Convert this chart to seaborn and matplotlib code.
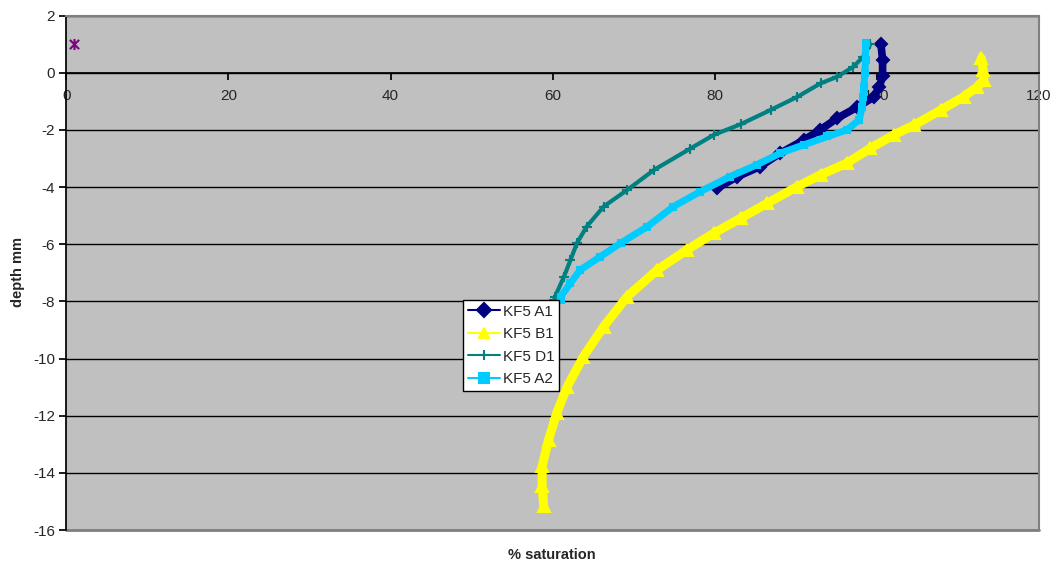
import matplotlib
matplotlib.use("Agg")
import matplotlib.pyplot as plt
from matplotlib.lines import Line2D
from matplotlib.path import Path
import seaborn as sns

# KF5 saturation profiles
a1_sat = [100.5, 100.7, 100.7, 100.3, 99.6, 97.6, 95.1, 93.0, 91.0, 88.1, 85.6, 82.8, 80.3]
a1_depth = [1.0, 0.45, -0.1, -0.5, -0.85, -1.2, -1.59, -2.0, -2.35, -2.81, -3.28, -3.63, -4.04]

b1_sat = [112.9, 113.1, 113.2, 112.4, 110.7, 107.9, 104.6, 102.1, 99.2, 96.3, 93.05, 90.2, 86.5,
          83.2, 79.9, 76.6, 72.9, 69.2, 66.3, 63.8, 61.8, 60.5, 59.5, 58.7, 58.7, 58.9]
b1_depth = [0.5, 0.1, -0.25, -0.49, -0.84, -1.30, -1.83, -2.17, -2.64, -3.16, -3.57, -3.98, -4.56,
            -5.09, -5.61, -6.19, -6.90, -7.83, -8.88, -9.93, -10.98, -11.91, -12.84, -13.77, -14.47, -15.17]

d1_sat = [99.2, 98.3, 97.1, 95.1, 93.05, 90.2, 86.9, 83.2, 79.9, 77.0, 72.5, 69.2, 66.3, 64.2,
          63.0, 62.2, 61.4, 60.3, 60.2]
d1_depth = [1.0, 0.56, 0.21, -0.14, -0.37, -0.84, -1.30, -1.80, -2.17, -2.65, -3.40, -4.10, -4.68,
            -5.38, -5.96, -6.55, -7.13, -7.83, -7.95]

a2_sat = [98.6, 98.6, 98.5, 98.4, 98.3, 98.2, 97.8, 96.3, 93.9, 91.0, 88.1, 85.2, 81.9, 78.2,
          74.9, 71.7, 68.4, 65.9, 63.4, 62.2, 61.0, 61.0]
a2_depth = [1.03, 0.45, -0.02, -0.49, -0.84, -1.19, -1.65, -2.0, -2.23, -2.52, -2.81, -3.22, -3.63,
            -4.16, -4.68, -5.38, -5.96, -6.43, -6.9, -7.36, -7.83, -7.95]

extra_sat = [1.0]
extra_depth = [1.0]

labels = ["KF5 A1", "KF5 B1", "KF5 D1", "KF5 A2"]
colors = ["#000080", "#FFFF00", "#008080", "#00CCFF"]
markers = ["D", "^", "+", "s"]

sns.set_theme(style="white")
plt.rcParams["font.family"] = ["Liberation Sans", "DejaVu Sans"]
plt.rcParams["axes.unicode_minus"] = False

fig = plt.figure(figsize=(10.57, 5.68), dpi=100)
ax = fig.add_axes([0.0627, 0.0669, 0.9203, 0.9056])
ax.set_facecolor("#C0C0C0")

series = [(a1_sat, a1_depth), (b1_sat, b1_depth), (d1_sat, d1_depth), (a2_sat, a2_depth)]
widths = [5.5, 6.5, 3, 5]
msizes = [6, 8, 7, 5]
for (xs, ys), c, m, lw, ms in zip(series, colors, markers, widths, msizes):
    sns.lineplot(x=xs, y=ys, sort=False, estimator=None, color=c, lw=lw, marker=m,
                 markersize=ms, markeredgecolor=c, markeredgewidth=1.5, ax=ax, zorder=3)

# star marker: X with a vertical bar
star = Path([(-1, -1), (1, 1), (-1, 1), (1, -1), (0, -1.2), (0, 1.2)],
            [Path.MOVETO, Path.LINETO, Path.MOVETO, Path.LINETO, Path.MOVETO, Path.LINETO])
sns.lineplot(x=extra_sat, y=extra_depth, color="#800080", marker=star, markersize=8,
             markeredgewidth=1.5, markeredgecolor="#800080", lw=0, ax=ax, zorder=3)

ax.set_xlim(0, 120)
ax.set_ylim(-16, 2)
ax.set_xticks(range(0, 121, 20))
ax.set_yticks(range(-16, 3, 2))
ax.yaxis.grid(True, color="black", lw=1)
ax.xaxis.grid(False)

ax.spines["bottom"].set_position(("data", 0))
ax.spines["bottom"].set_color("black")
ax.spines["left"].set_color("black")
for s in ["top", "right"]:
    ax.spines[s].set_color("#808080")
    ax.spines[s].set_linewidth(1.5)
ax.axhline(-16, color="#808080", lw=2, zorder=2.5, clip_on=False)

ax.tick_params(axis="x", direction="out", length=5, pad=7, labelsize=11, color="black", bottom=True)
ax.tick_params(axis="y", direction="out", length=5, pad=3, labelsize=11, color="black", left=True)

ax.set_xlabel("")
ax.set_ylabel("")
fig.text(18 / 1057, 1 - 272 / 568, "depth mm", ha="center", va="center", rotation=90,
         fontsize=10.5, fontweight="bold")
fig.text(0.522, 1 - 555 / 568, "% saturation", ha="center", va="center",
         fontsize=10.5, fontweight="bold")

handles = [Line2D([], [], color=c, marker=m, markersize=7, markeredgewidth=1.5, lw=1.5)
           for c, m in zip(colors, markers)]
leg = ax.legend(handles, labels, loc="upper left", bbox_to_anchor=(0.408, 0.447),
                borderaxespad=0, fancybox=False, framealpha=1, edgecolor="black",
                fontsize=11, handlelength=2.1, labelspacing=0.56, borderpad=0.3,
                handletextpad=0.2)
leg.get_frame().set_linewidth(1)

fig.savefig("out.png", dpi=100)
